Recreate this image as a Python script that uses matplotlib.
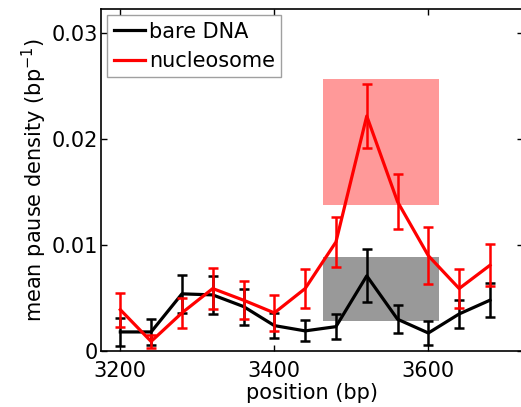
import numpy as np
import matplotlib
matplotlib.use("Agg")
import matplotlib.pyplot as plt
from matplotlib.patches import Rectangle
from matplotlib.lines import Line2D

plt.rcParams['font.family'] = ['DejaVu Sans']

# positions (bp)
position = [3200, 3240, 3280, 3320, 3360, 3400, 3440, 3480, 3520, 3560, 3600, 3640, 3680]

# bare DNA mean pause density and error
bare_mean = [0.0018, 0.0018, 0.0054, 0.0053, 0.0042, 0.0024, 0.0019, 0.0023, 0.0071, 0.0030, 0.0017, 0.0035, 0.0048]
bare_err = [0.0013, 0.0012, 0.0018, 0.0018, 0.0017, 0.0012, 0.0010, 0.0012, 0.0025, 0.0013, 0.0011, 0.0013, 0.0016]

# nucleosome mean pause density and error
nuc_mean = [0.0039, 0.0009, 0.0036, 0.0059, 0.0048, 0.0036, 0.0059, 0.0103, 0.0222, 0.0141, 0.0090, 0.0059, 0.0081]
nuc_err = [0.0016, 0.0006, 0.0014, 0.0019, 0.0018, 0.0017, 0.0018, 0.0024, 0.0030, 0.0026, 0.0027, 0.0018, 0.0020]

# shaded regions: (x start, x end, y low, y high)
nuc_box = [3463, 3614, 0.0138, 0.0257]
bare_box = [3463, 3614, 0.0028, 0.0089]

fig = plt.figure(figsize=(5.21, 4.07), dpi=100)
ax = fig.add_axes([0.194, 0.1376, 0.81, 0.840])

ax.add_patch(Rectangle((nuc_box[0], nuc_box[2]), nuc_box[1] - nuc_box[0], nuc_box[3] - nuc_box[2],
                       facecolor='#ff9999', edgecolor='none', zorder=1))
ax.add_patch(Rectangle((bare_box[0], bare_box[2]), bare_box[1] - bare_box[0], bare_box[3] - bare_box[2],
                       facecolor='#999999', edgecolor='none', zorder=1))

ax.errorbar(position, bare_mean, yerr=bare_err, color='black', lw=2.3, elinewidth=1.8,
            capsize=3.5, capthick=1.8, zorder=3)
ax.errorbar(position, nuc_mean, yerr=nuc_err, color='red', lw=2.3, elinewidth=1.8,
            capsize=3.5, capthick=1.8, zorder=4)

ax.set_xlim(3175, 3723)
ax.set_ylim(0, 0.0323)
ax.set_xticks([3200, 3400, 3600])
ax.set_yticks([0, 0.01, 0.02, 0.03])
ax.set_yticklabels(['0', '0.01', '0.02', '0.03'])
ax.tick_params(direction='in', top=True, right=True, length=4, width=1, labelsize=15)
ax.tick_params(axis='x', pad=7)
ax.tick_params(axis='y', pad=2)
for s in ax.spines.values():
    s.set_linewidth(1.2)

ax.set_xlabel('position (bp)', fontsize=15, labelpad=2)
ax.set_ylabel('mean pause density (bp$^{-1}$)', fontsize=15, labelpad=2)

handles = [Line2D([], [], color='black', lw=2.3), Line2D([], [], color='red', lw=2.3)]
leg = ax.legend(handles, ['bare DNA', 'nucleosome'], loc='upper left', fontsize=15,
                handlelength=1.5, handletextpad=0.2, borderpad=0.3, labelspacing=0.45,
                fancybox=False, borderaxespad=0.3)
leg.get_frame().set_edgecolor('#888888')
leg.get_frame().set_linewidth(1.0)

fig.savefig('out.png', dpi=100)
